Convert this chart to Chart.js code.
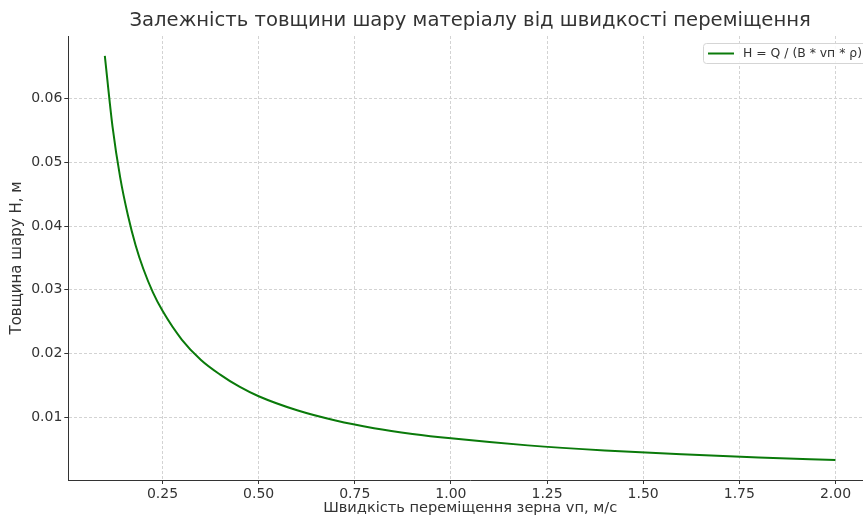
<!DOCTYPE html>
<html>
<head>
<meta charset="utf-8">
<script src="https://cdn.jsdelivr.net/npm/chart.js@4"></script>
<style>
  html, body { margin: 0; padding: 0; background: #fff; overflow: hidden; }
  #wrap { width: 900px; height: 517px; }
</style>
</head>
<body>
<div id="wrap"><canvas id="grafico" width="900" height="517"></canvas></div>
<script>
// Дані
const speeds = [0.10, 0.12, 0.14, 0.16, 0.18, 0.20, 0.225, 0.25, 0.30, 0.35, 0.40, 0.45, 0.50,
                0.60, 0.70, 0.80, 0.90, 1.00, 1.20, 1.40, 1.60, 1.80, 2.00];
const thickness = [0.0667, 0.0556, 0.0476, 0.0417, 0.0370, 0.0333, 0.0296, 0.0267, 0.0222, 0.0190, 0.0167, 0.0148, 0.0133,
                   0.0111, 0.0095, 0.0083, 0.0074, 0.0067, 0.0056, 0.0048, 0.0042, 0.0037, 0.0033];
const xTicks = [0.25, 0.50, 0.75, 1.00, 1.25, 1.50, 1.75, 2.00];
const yTicks = [0.01, 0.02, 0.03, 0.04, 0.05, 0.06];

const seriesLabel = 'H = Q / (B * vп * ρ)';
const titleText = 'Залежність товщини шару матеріалу від швидкості переміщення';
const xLabel = 'Швидкість переміщення зерна vп, м/с';
const yLabel = 'Товщина шару Н, м';

Chart.defaults.font.family = 'DejaVu Sans';
Chart.defaults.color = '#333';

// Легенда в рамці, як у matplotlib
const legendBox = {
    id: 'legendBox',
    afterDraw(chart) {
        const c = chart.ctx;
        const ds = chart.data.datasets[0];
        c.save();
        c.fillStyle = 'rgba(255,255,255,0.85)';
        c.strokeStyle = '#d5d5d5';
        c.lineWidth = 1;
        c.beginPath();
        c.roundRect(703.5, 43.5, 170, 20, 3);
        c.fill();
        c.stroke();
        c.strokeStyle = ds.borderColor;
        c.lineWidth = 2;
        c.beginPath();
        c.moveTo(708, 53.5);
        c.lineTo(734, 53.5);
        c.stroke();
        c.fillStyle = '#333';
        c.font = '12.4px "DejaVu Sans"';
        c.textBaseline = 'middle';
        c.fillText(ds.label, 743, 54);
        c.restore();
    }
};

const gridOpts = {
    color: '#d3d3d3',
    tickColor: '#333',
    tickLength: 4,
    tickBorderDash: []
};

const ctx = document.getElementById('grafico').getContext('2d');
const grafico = new Chart(ctx, {
    type: 'line',
    data: {
        datasets: [{
            label: seriesLabel,
            data: speeds.map((v, i) => ({ x: v, y: thickness[i] })),
            borderColor: '#0a7a0a',
            borderWidth: 2,
            pointRadius: 0,
            cubicInterpolationMode: 'monotone',
            fill: false
        }]
    },
    options: {
        responsive: false,
        devicePixelRatio: 1,
        animation: false,
        layout: { padding: { left: 0, right: 28, top: 0, bottom: 0 } },
        plugins: {
            legend: { display: false },
            tooltip: { enabled: false },
            title: {
                display: true,
                text: titleText,
                fullSize: false,
                color: '#333',
                font: { size: 19.6, weight: 'normal' },
                padding: { top: 9.2, bottom: 3.3 }
            }
        },
        scales: {
            x: {
                type: 'linear',
                min: 0.005,
                max: 2.095,
                afterFit(scale) { scale.height = 37; },
                afterBuildTicks(scale) { scale.ticks = xTicks.map(v => ({ value: v })); },
                ticks: {
                    color: '#333',
                    font: { size: 14 },
                    padding: 2,
                    maxRotation: 0,
                    callback: v => v.toFixed(2)
                },
                grid: gridOpts,
                border: { color: '#333', width: 1, dash: [3, 2] },
                title: {
                    display: true,
                    text: xLabel,
                    color: '#333',
                    font: { size: 14.6 },
                    padding: { top: 0, bottom: 0 }
                }
            },
            y: {
                type: 'linear',
                min: 0.00017,
                max: 0.0698,
                afterFit(scale) { scale.width = 68.3; },
                afterBuildTicks(scale) { scale.ticks = yTicks.map(v => ({ value: v })); },
                ticks: {
                    color: '#333',
                    font: { size: 14 },
                    padding: 2,
                    callback: v => v.toFixed(2)
                },
                grid: gridOpts,
                border: { color: '#333', width: 1, dash: [3, 2] },
                title: {
                    display: true,
                    text: yLabel,
                    color: '#333',
                    font: { size: 15 },
                    padding: { top: 8, bottom: 0 }
                }
            }
        }
    },
    plugins: [legendBox]
});
</script>
</body>
</html>
